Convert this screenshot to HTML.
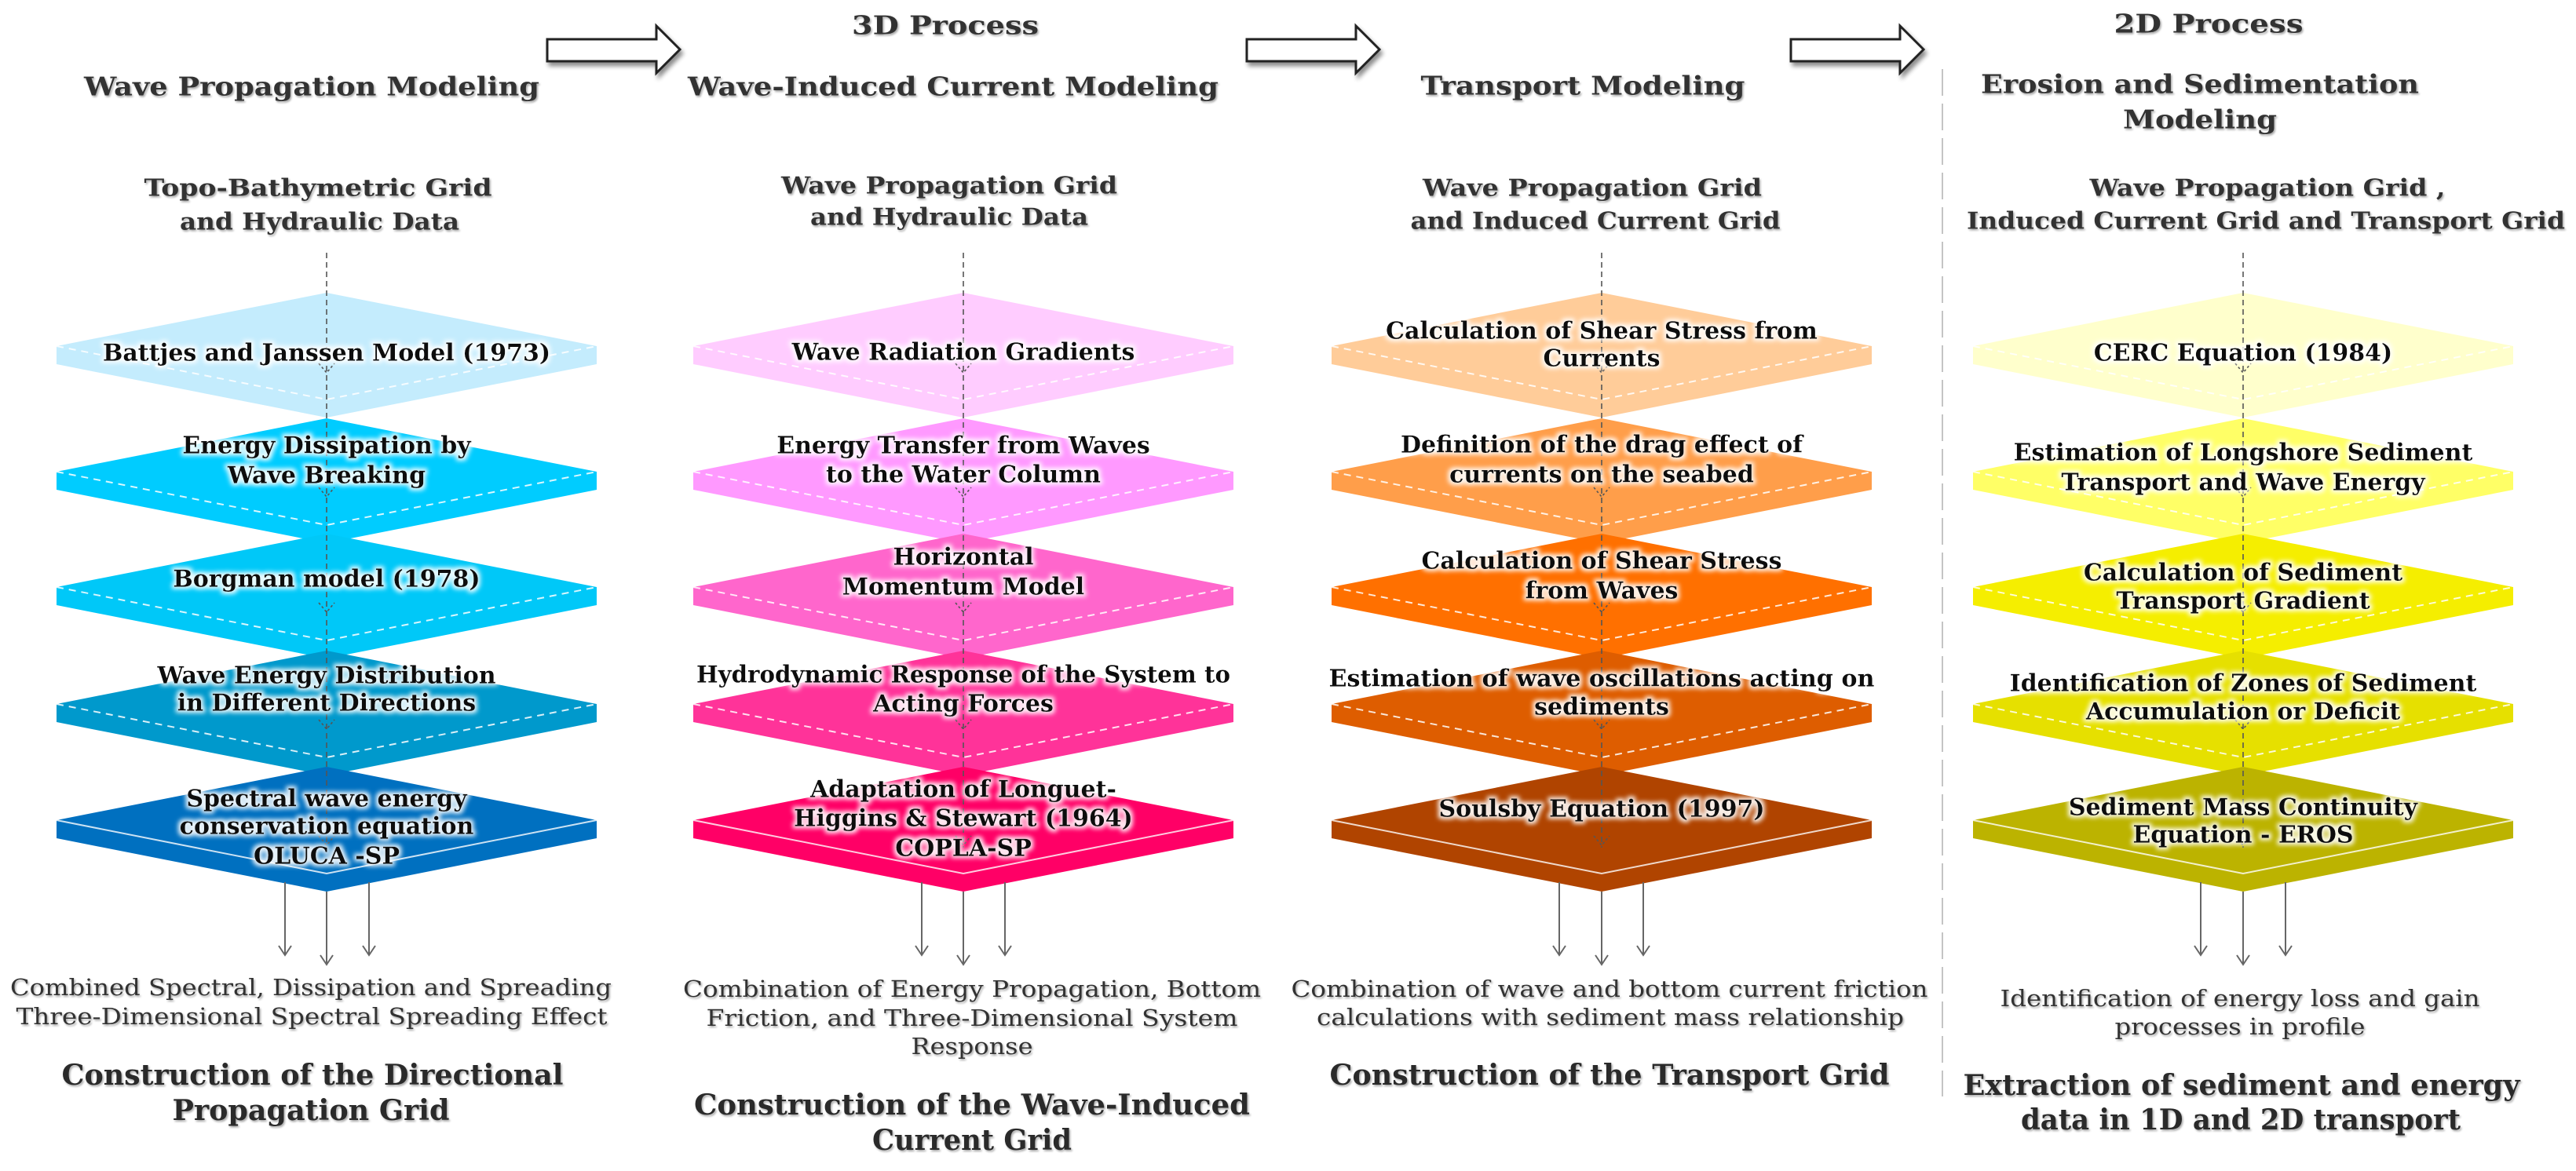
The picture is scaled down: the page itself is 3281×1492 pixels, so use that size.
<!DOCTYPE html>
<html><head><meta charset="utf-8"><style>
html,body{margin:0;padding:0;background:#fff;}
svg{display:block;}
.h{font-family:"DejaVu Serif","Liberation Serif",serif;font-weight:bold;fill:#333;}
.s{font-family:"DejaVu Serif","Liberation Serif",serif;font-weight:bold;fill:#333;}
.c{font-family:"DejaVu Serif","Liberation Serif",serif;fill:#333;}
.b{font-family:"DejaVu Serif","Liberation Serif",serif;font-weight:bold;fill:#2a2a2a;}
.l{font-family:"DejaVu Serif","Liberation Serif",serif;font-weight:bold;fill:#111;font-size:30px;}
</style></head><body>
<svg width="3281" height="1492" viewBox="0 0 3281 1492" xmlns="http://www.w3.org/2000/svg">
<defs>
<filter id="glow" x="-10%" y="-30%" width="120%" height="160%">
<feMorphology in="SourceAlpha" operator="dilate" radius="3" result="d"/>
<feGaussianBlur in="d" stdDeviation="3" result="bl"/>
<feFlood flood-color="#fff" flood-opacity="0.9"/>
<feComposite in2="bl" operator="in" result="w"/>
<feMerge><feMergeNode in="w"/><feMergeNode in="SourceGraphic"/></feMerge>
</filter>
<filter id="sh" x="-20%" y="-20%" width="150%" height="170%">
<feGaussianBlur in="SourceAlpha" stdDeviation="3"/><feOffset dx="3" dy="5"/>
<feComponentTransfer><feFuncA type="linear" slope="0.45"/></feComponentTransfer>
<feMerge><feMergeNode/><feMergeNode in="SourceGraphic"/></feMerge>
</filter>
<filter id="tsh"><feGaussianBlur in="SourceAlpha" stdDeviation="1.2"/><feOffset dx="1.5" dy="2"/><feComponentTransfer><feFuncA type="linear" slope="0.35"/></feComponentTransfer><feMerge><feMergeNode/><feMergeNode in="SourceGraphic"/></feMerge></filter>
</defs>

<g fill="#fff" stroke="#222" stroke-width="3" filter="url(#sh)">
<polygon points="697,50 836,50 836,33 866,63 836,93 836,78 697,78"/>
<polygon points="1588,50 1727,50 1727,33 1757,63 1727,93 1727,78 1588,78"/>
<polygon points="2281,50 2420,50 2420,33 2450,63 2420,93 2420,78 2281,78"/>
</g>

<line x1="2474" y1="88" x2="2474" y2="1397" stroke="#c4c4c4" stroke-width="2" stroke-dasharray="34 10"/>

<g filter="url(#tsh)">
<text class="h" x="1204" y="32" font-size="33" text-anchor="middle" dominant-baseline="central" textLength="238" lengthAdjust="spacingAndGlyphs">3D Process</text>
<text class="h" x="2813" y="30" font-size="33" text-anchor="middle" dominant-baseline="central" textLength="241" lengthAdjust="spacingAndGlyphs">2D Process</text>
<text class="h" x="397" y="110" font-size="33" text-anchor="middle" dominant-baseline="central" textLength="580" lengthAdjust="spacingAndGlyphs">Wave Propagation Modeling</text>
<text class="h" x="1214" y="110" font-size="33" text-anchor="middle" dominant-baseline="central" textLength="676" lengthAdjust="spacingAndGlyphs">Wave-Induced Current Modeling</text>
<text class="h" x="2016" y="109" font-size="33" text-anchor="middle" dominant-baseline="central" textLength="413" lengthAdjust="spacingAndGlyphs">Transport Modeling</text>
<text class="h" x="2802" y="107" font-size="33" text-anchor="middle" dominant-baseline="central" textLength="558" lengthAdjust="spacingAndGlyphs">Erosion and Sedimentation</text>
<text class="h" x="2802" y="152" font-size="33" text-anchor="middle" dominant-baseline="central" textLength="196" lengthAdjust="spacingAndGlyphs">Modeling</text>

<text class="s" x="405" y="240" font-size="30" text-anchor="middle" dominant-baseline="central" textLength="443" lengthAdjust="spacingAndGlyphs">Topo-Bathymetric Grid</text>
<text class="s" x="407" y="283" font-size="30" text-anchor="middle" dominant-baseline="central" textLength="356" lengthAdjust="spacingAndGlyphs">and Hydraulic Data</text>
<text class="s" x="1209" y="237" font-size="30" text-anchor="middle" dominant-baseline="central" textLength="428" lengthAdjust="spacingAndGlyphs">Wave Propagation Grid</text>
<text class="s" x="1209" y="277" font-size="30" text-anchor="middle" dominant-baseline="central" textLength="354" lengthAdjust="spacingAndGlyphs">and Hydraulic Data</text>
<text class="s" x="2028" y="240" font-size="30" text-anchor="middle" dominant-baseline="central" textLength="432" lengthAdjust="spacingAndGlyphs">Wave Propagation Grid</text>
<text class="s" x="2032" y="282" font-size="30" text-anchor="middle" dominant-baseline="central" textLength="471" lengthAdjust="spacingAndGlyphs">and Induced Current Grid</text>
<text class="s" x="2888" y="240" font-size="30" text-anchor="middle" dominant-baseline="central" textLength="453" lengthAdjust="spacingAndGlyphs">Wave Propagation Grid ,</text>
<text class="s" x="2886" y="282" font-size="30" text-anchor="middle" dominant-baseline="central" textLength="762" lengthAdjust="spacingAndGlyphs">Induced Current Grid and Transport Grid</text>
</g>

<g id="diamonds">
<polygon fill="#c4ecfd" points="416,373 760,441 760,464 416,532 72,464 72,441"/>
<polygon fill="#00ccff" points="416,533 760,601 760,624 416,692 72,624 72,601"/>
<polygon fill="#00c8f8" points="416,680 760,748 760,771 416,839 72,771 72,748"/>
<polygon fill="#0099cc" points="416,829 760,897 760,920 416,988 72,920 72,897"/>
<polygon fill="#0070c0" points="416,977 760,1045 760,1068 416,1136 72,1068 72,1045"/>
<polygon fill="#ffccff" points="1227,373 1571,441 1571,464 1227,532 883,464 883,441"/>
<polygon fill="#ff99ff" points="1227,533 1571,601 1571,624 1227,692 883,624 883,601"/>
<polygon fill="#ff66cc" points="1227,680 1571,748 1571,771 1227,839 883,771 883,748"/>
<polygon fill="#ff3399" points="1227,829 1571,897 1571,920 1227,988 883,920 883,897"/>
<polygon fill="#ff0066" points="1227,977 1571,1045 1571,1068 1227,1136 883,1068 883,1045"/>
<polygon fill="#ffcc99" points="2040,373 2384,441 2384,464 2040,532 1696,464 1696,441"/>
<polygon fill="#ff9e4a" points="2040,533 2384,601 2384,624 2040,692 1696,624 1696,601"/>
<polygon fill="#ff7000" points="2040,680 2384,748 2384,771 2040,839 1696,771 1696,748"/>
<polygon fill="#de5d00" points="2040,829 2384,897 2384,920 2040,988 1696,920 1696,897"/>
<polygon fill="#b04400" points="2040,977 2384,1045 2384,1068 2040,1136 1696,1068 1696,1045"/>
<polygon fill="#ffffcc" points="2857,373 3201,441 3201,464 2857,532 2513,464 2513,441"/>
<polygon fill="#ffff66" points="2857,533 3201,601 3201,624 2857,692 2513,624 2513,601"/>
<polygon fill="#f5ee00" points="2857,680 3201,748 3201,771 2857,839 2513,771 2513,748"/>
<polygon fill="#e6e000" points="2857,829 3201,897 3201,920 2857,988 2513,920 2513,897"/>
<polygon fill="#bcb300" points="2857,977 3201,1045 3201,1068 2857,1136 2513,1068 2513,1045"/>
</g>

<g fill="none" stroke="#fff" stroke-opacity="0.85" stroke-width="2" stroke-dasharray="9 7">
<polyline points="72,441 416,509 760,441"/><polyline points="72,601 416,669 760,601"/><polyline points="72,748 416,816 760,748"/><polyline points="72,897 416,965 760,897"/>
<polyline points="883,441 1227,509 1571,441"/><polyline points="883,601 1227,669 1571,601"/><polyline points="883,748 1227,816 1571,748"/><polyline points="883,897 1227,965 1571,897"/>
<polyline points="1696,441 2040,509 2384,441"/><polyline points="1696,601 2040,669 2384,601"/><polyline points="1696,748 2040,816 2384,748"/><polyline points="1696,897 2040,965 2384,897"/>
<polyline points="2513,441 2857,509 3201,441"/><polyline points="2513,601 2857,669 3201,601"/><polyline points="2513,748 2857,816 3201,748"/><polyline points="2513,897 2857,965 3201,897"/>
</g>
<g fill="none" stroke="#fff" stroke-opacity="0.8" stroke-width="2">
<polyline points="72,1045 416,1113 760,1045"/><polyline points="883,1045 1227,1113 1571,1045"/><polyline points="1696,1045 2040,1113 2384,1045"/><polyline points="2513,1045 2857,1113 3201,1045"/>
</g>

<g fill="none" stroke="#555" stroke-width="1.6" stroke-dasharray="7 5">
<line x1="416" y1="322" x2="416" y2="1080"/>
<line x1="1227" y1="322" x2="1227" y2="1080"/>
<line x1="2040" y1="322" x2="2040" y2="1080"/>
<line x1="2857" y1="322" x2="2857" y2="1080"/>
</g>
<g fill="none" stroke="#555" stroke-width="1.6" stroke-dasharray="3 3">
<polyline points="406,463 416,475 426,463"/><polyline points="406,621 416,633 426,621"/><polyline points="406,768 416,780 426,768"/><polyline points="406,917 416,929 426,917"/><polyline points="406,1065 416,1077 426,1065"/>
<polyline points="1217,463 1227,475 1237,463"/><polyline points="1217,621 1227,633 1237,621"/><polyline points="1217,768 1227,780 1237,768"/><polyline points="1217,917 1227,929 1237,917"/><polyline points="1217,1065 1227,1077 1237,1065"/>
<polyline points="2030,463 2040,475 2050,463"/><polyline points="2030,621 2040,633 2050,621"/><polyline points="2030,768 2040,780 2050,768"/><polyline points="2030,917 2040,929 2050,917"/><polyline points="2030,1065 2040,1077 2050,1065"/>
<polyline points="2847,463 2857,475 2867,463"/><polyline points="2847,621 2857,633 2867,621"/><polyline points="2847,768 2857,780 2867,768"/><polyline points="2847,917 2857,929 2867,917"/><polyline points="2847,1065 2857,1077 2867,1065"/>
</g>

<g filter="url(#glow)" text-anchor="middle" dominant-baseline="central">
<text class="l" x="416" y="450">Battjes and Janssen Model (1973)</text>
<text class="l" x="416" y="568">Energy Dissipation by</text>
<text class="l" x="416" y="606">Wave Breaking</text>
<text class="l" x="416" y="738">Borgman model (1978)</text>
<text class="l" x="416" y="861">Wave Energy Distribution</text>
<text class="l" x="416" y="896">in Different Directions</text>
<text class="l" x="416" y="1018">Spectral wave energy</text>
<text class="l" x="416" y="1053">conservation equation</text>
<text class="l" x="416" y="1091">OLUCA -SP</text>

<text class="l" x="1227" y="449">Wave Radiation Gradients</text>
<text class="l" x="1227" y="568">Energy Transfer from Waves</text>
<text class="l" x="1227" y="605">to the Water Column</text>
<text class="l" x="1227" y="710">Horizontal</text>
<text class="l" x="1227" y="748">Momentum Model</text>
<text class="l" x="1227" y="860" textLength="680" lengthAdjust="spacingAndGlyphs">Hydrodynamic Response of the System to</text>
<text class="l" x="1227" y="897">Acting Forces</text>
<text class="l" x="1227" y="1006">Adaptation of Longuet-</text>
<text class="l" x="1227" y="1043">Higgins &amp; Stewart (1964)</text>
<text class="l" x="1227" y="1081">COPLA-SP</text>

<text class="l" x="2040" y="422">Calculation of Shear Stress from</text>
<text class="l" x="2040" y="457">Currents</text>
<text class="l" x="2040" y="567">Definition of the drag effect of</text>
<text class="l" x="2040" y="605">currents on the seabed</text>
<text class="l" x="2040" y="715">Calculation of Shear Stress</text>
<text class="l" x="2040" y="753">from Waves</text>
<text class="l" x="2040" y="865" textLength="695" lengthAdjust="spacingAndGlyphs">Estimation of wave oscillations acting on</text>
<text class="l" x="2040" y="901">sediments</text>
<text class="l" x="2040" y="1031">Soulsby Equation (1997)</text>

<text class="l" x="2857" y="450">CERC Equation (1984)</text>
<text class="l" x="2857" y="577">Estimation of Longshore Sediment</text>
<text class="l" x="2857" y="615">Transport and Wave Energy</text>
<text class="l" x="2857" y="730">Calculation of Sediment</text>
<text class="l" x="2857" y="766">Transport Gradient</text>
<text class="l" x="2857" y="871">Identification of Zones of Sediment</text>
<text class="l" x="2857" y="907">Accumulation or Deficit</text>
<text class="l" x="2857" y="1029">Sediment Mass Continuity</text>
<text class="l" x="2857" y="1064">Equation - EROS</text>
</g>

<g fill="none" stroke="#666" stroke-width="2">
<line x1="363" y1="1124" x2="363" y2="1217"/><line x1="416" y1="1136" x2="416" y2="1229"/><line x1="470" y1="1124" x2="470" y2="1217"/>
<polyline points="355,1205 363,1217 371,1205"/><polyline points="408,1217 416,1229 424,1217"/><polyline points="462,1205 470,1217 478,1205"/>
<line x1="1174" y1="1124" x2="1174" y2="1217"/><line x1="1227" y1="1136" x2="1227" y2="1229"/><line x1="1280" y1="1124" x2="1280" y2="1217"/>
<polyline points="1166,1205 1174,1217 1182,1205"/><polyline points="1219,1217 1227,1229 1235,1217"/><polyline points="1272,1205 1280,1217 1288,1205"/>
<line x1="1986" y1="1124" x2="1986" y2="1217"/><line x1="2040" y1="1136" x2="2040" y2="1229"/><line x1="2093" y1="1124" x2="2093" y2="1217"/>
<polyline points="1978,1205 1986,1217 1994,1205"/><polyline points="2032,1217 2040,1229 2048,1217"/><polyline points="2085,1205 2093,1217 2101,1205"/>
<line x1="2803" y1="1124" x2="2803" y2="1217"/><line x1="2857" y1="1136" x2="2857" y2="1229"/><line x1="2911" y1="1124" x2="2911" y2="1217"/>
<polyline points="2795,1205 2803,1217 2811,1205"/><polyline points="2849,1217 2857,1229 2865,1217"/><polyline points="2903,1205 2911,1217 2919,1205"/>
</g>

<g filter="url(#tsh)" text-anchor="middle" dominant-baseline="central">
<text class="c" x="396" y="1258" font-size="29" textLength="766" lengthAdjust="spacingAndGlyphs">Combined Spectral, Dissipation and Spreading</text>
<text class="c" x="397" y="1295" font-size="29" textLength="753" lengthAdjust="spacingAndGlyphs">Three-Dimensional Spectral Spreading Effect</text>
<text class="c" x="1238" y="1260" font-size="29" textLength="736" lengthAdjust="spacingAndGlyphs">Combination of Energy Propagation, Bottom</text>
<text class="c" x="1238" y="1297" font-size="29" textLength="677" lengthAdjust="spacingAndGlyphs">Friction, and Three-Dimensional System</text>
<text class="c" x="1238" y="1333" font-size="29" textLength="155" lengthAdjust="spacingAndGlyphs">Response</text>
<text class="c" x="2050" y="1260" font-size="29" textLength="811" lengthAdjust="spacingAndGlyphs">Combination of wave and bottom current friction</text>
<text class="c" x="2051" y="1296" font-size="29" textLength="748" lengthAdjust="spacingAndGlyphs">calculations with sediment mass relationship</text>
<text class="c" x="2853" y="1272" font-size="29" textLength="611" lengthAdjust="spacingAndGlyphs">Identification of energy loss and gain</text>
<text class="c" x="2853" y="1308" font-size="29" textLength="319" lengthAdjust="spacingAndGlyphs">processes in profile</text>

<text class="b" x="398" y="1370" font-size="36" textLength="639" lengthAdjust="spacingAndGlyphs">Construction of the Directional</text>
<text class="b" x="396" y="1415" font-size="36" textLength="353" lengthAdjust="spacingAndGlyphs">Propagation Grid</text>
<text class="b" x="1238" y="1408" font-size="36" textLength="708" lengthAdjust="spacingAndGlyphs">Construction of the Wave-Induced</text>
<text class="b" x="1238" y="1453" font-size="36" textLength="254" lengthAdjust="spacingAndGlyphs">Current Grid</text>
<text class="b" x="2050" y="1370" font-size="36" textLength="713" lengthAdjust="spacingAndGlyphs">Construction of the Transport Grid</text>
<text class="b" x="2855" y="1383" font-size="36" textLength="709" lengthAdjust="spacingAndGlyphs">Extraction of sediment and energy</text>
<text class="b" x="2854" y="1427" font-size="36" textLength="560" lengthAdjust="spacingAndGlyphs">data in 1D and 2D transport</text>
</g>
</svg>
</body></html>
